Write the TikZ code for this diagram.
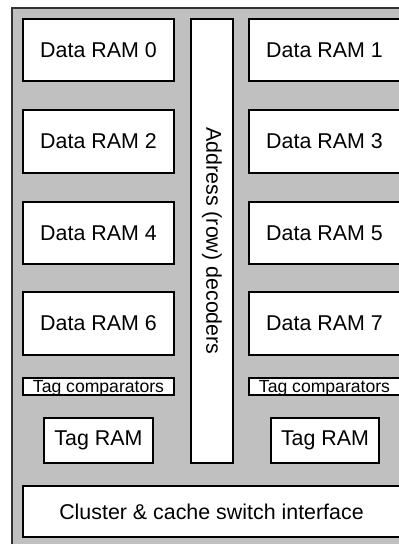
\documentclass[tikz,border=0pt]{standalone}
\usepackage{fontspec}
\setmainfont{Liberation Sans}
\definecolor{bggray}{RGB}{192,192,192}
\begin{document}
\begin{tikzpicture}[x=1pt,y=-1pt,
  blk/.style={draw=black,fill=white,line width=1.1pt,inner sep=0pt,
    font=\fontsize{21.4}{24}\selectfont},
  small/.style={draw=black,fill=white,line width=1.1pt,inner sep=0pt},
  lbl/.style={inner sep=0pt,font=\fontsize{21.4}{24}\selectfont},
  slbl/.style={inner sep=0pt,anchor=base,font=\fontsize{17.6}{20}\selectfont}]
\useasboundingbox (0,0) rectangle (399,544);
\clip (0,0) rectangle (399,544);
\draw[fill=bggray,draw=black!80,line width=1.2pt] (12,8) rectangle (411,556);
% left column
\node[blk,minimum width=151pt,minimum height=62pt] (d0) at (98.5,50) {Data RAM 0};
\node[blk,minimum width=151pt,minimum height=63pt] (d2) at (98.5,141.5) {Data RAM 2};
\node[blk,minimum width=151pt,minimum height=62pt] (d4) at (98.5,233) {Data RAM 4};
\node[blk,minimum width=151pt,minimum height=63pt] (d6) at (98.5,323.5) {Data RAM 6};
% right column
\node[blk,minimum width=151pt,minimum height=62pt] (d1) at (324.5,50) {Data RAM 1};
\node[blk,minimum width=151pt,minimum height=63pt] (d3) at (324.5,141.5) {Data RAM 3};
\node[blk,minimum width=151pt,minimum height=62pt] (d5) at (324.5,233) {Data RAM 5};
\node[blk,minimum width=151pt,minimum height=63pt] (d7) at (324.5,323.5) {Data RAM 7};
% decoder
\node[blk,minimum width=42pt,minimum height=444pt] (dec) at (212,241) {};
\node[lbl,rotate=-90] (dect) at (dec.center) {Address (row) decoders};
% tag comparators
\node[small,minimum width=151pt,minimum height=17pt] (tc0) at (98.5,386.5) {};
\node[slbl] (tc0t) at (98.5,392) {Tag comparators};
\node[small,minimum width=151pt,minimum height=17pt] (tc1) at (324.5,386.5) {};
\node[slbl] (tc1t) at (324.5,392) {Tag comparators};
% tag rams
\node[blk,minimum width=109pt,minimum height=45pt] (tr0) at (98.5,440.5) {Tag RAM};
\node[blk,minimum width=108pt,minimum height=45pt] (tr1) at (325,440.5) {Tag RAM};
% cluster
\node[blk,minimum width=388pt,minimum height=51pt] (cl) at (217,511.5) {};
\node[lbl] (clt) at (211.5,511.5) {Cluster \& cache switch interface};
\end{tikzpicture}
\end{document}
